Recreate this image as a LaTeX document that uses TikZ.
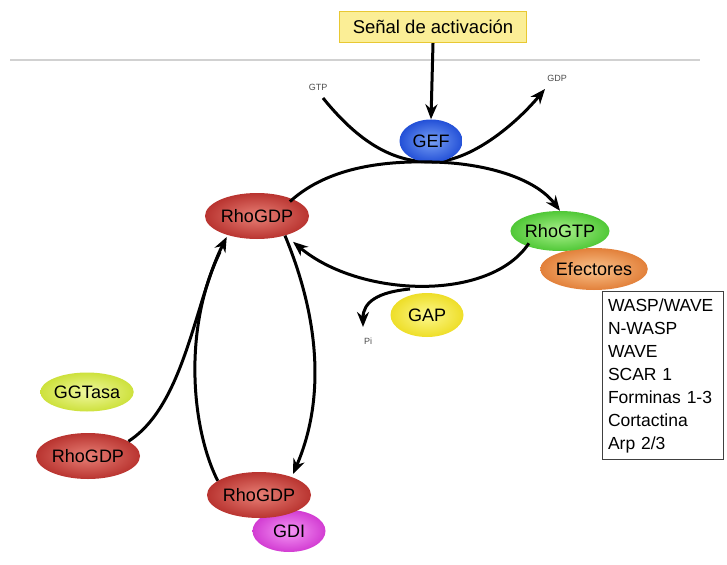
\documentclass[tikz,border=0pt]{standalone}
\usepackage{fontspec}
\setmainfont{Liberation Sans}
\usetikzlibrary{shapes.geometric,arrows.meta}
\definecolor{rdin}{RGB}{232,128,118}\definecolor{rdout}{RGB}{185,52,48}
\definecolor{blin}{RGB}{120,160,245}\definecolor{blout}{RGB}{35,80,215}
\definecolor{grin}{RGB}{170,240,140}\definecolor{grout}{RGB}{80,200,55}
\definecolor{orin}{RGB}{250,195,140}\definecolor{orout}{RGB}{226,128,58}
\definecolor{yein}{RGB}{252,248,140}\definecolor{yeout}{RGB}{238,222,40}
\definecolor{ygin}{RGB}{240,248,160}\definecolor{ygout}{RGB}{205,225,60}
\definecolor{mgin}{RGB}{245,150,245}\definecolor{mgout}{RGB}{210,60,210}
\definecolor{boxfill}{RGB}{251,238,150}\definecolor{boxedge}{RGB}{232,200,50}
\tikzset{
  bub/.style={ellipse, inner sep=0pt, font=\fontsize{18}{20}\selectfont},
  rdb/.style={bub, inner color=rdin, outer color=rdout, minimum width=104pt, minimum height=46pt},
  arr/.style={-{Stealth[length=15pt,width=12pt]}, line width=3pt},
  ln/.style={line width=3pt},
  small/.style={font=\fontsize{9}{10}\selectfont, text=black!70, inner sep=1pt}
}
\begin{document}
\begin{tikzpicture}[x=1pt,y=-1pt]
\useasboundingbox (0,0) rectangle (727,564);
\draw[black!18, line width=1.2pt] (10,60) -- (700,60);
% labels
\node[small] (gtp) at (318,87) {GTP};
\node[small] (gdp) at (557,78) {GDP};
\node[small] (pi) at (368,341) {Pi};
% signal box
\node[draw=boxedge, fill=boxfill, line width=1.2pt, minimum width=187pt, minimum height=31pt, inner sep=0pt, font=\fontsize{18.5}{20}\selectfont] (sig) at (433,27) {Señal de activación};
% curve behind GEF
\coordinate (gtpS) at (323,98);
\coordinate (gdpS) at (545,89);
\draw[arr] (gtpS) .. controls (365,150) and (400,162) .. (432,162) .. controls (470,162) and (515,125) .. (gdpS);
% nodes
\node[bub, inner color=blin, outer color=blout, minimum width=63pt, minimum height=43pt] (gef) at (431,141) {GEF};
\node[rdb] (rA) at (257,216) {RhoGDP};
\node[bub, inner color=orin, outer color=orout, minimum width=90pt, minimum height=42pt] (efe) at (594,269) {Efectores};
\node[bub, inner color=grin, outer color=grout, minimum width=93pt, minimum height=40pt] (gtpn) at (560,231) {RhoGTP};
\node[bub, inner color=yein, outer color=yeout, minimum width=73pt, minimum height=44pt] (gap) at (427,315) {GAP};
\node[bub, inner color=ygin, outer color=ygout, minimum width=85pt, minimum height=39pt] (ggt) at (87,392) {GGTasa};
\node[rdb] (rL) at (88,456) {RhoGDP};
\node[bub, inner color=mgin, outer color=mgout, minimum width=73pt, minimum height=42pt] (gdi) at (289,531) {GDI};
\node[rdb] (rB) at (259,495) {RhoGDP};
% list box
\node[draw=black!75, line width=1pt, anchor=north west, align=left, minimum width=121pt, minimum height=168pt, text width=110pt, inner xsep=5pt, font=\fontsize{17.5}{23}\selectfont] (lst) at (602,291) {WASP/WAVE\\N-WASP\\WAVE\\SCAR 1\\Forminas 1-3\\Cortactina\\Arp 2/3};
% connectors
\draw[arr] (sig.south) -- (gef.north);
\draw[arr] (rA.north east) ++(-4,2) .. controls (330,165) and (390,161) .. (432,162) .. controls (485,163) and (535,178) .. (gtpn.north);
\coordinate (br) at (410,289);
\draw[arr] (gtpn.south west) ++(4,-2) .. controls (490,302) and (360,298) .. ([yshift=-9pt]rA.-25);
\draw[arr] (br) .. controls (378,292) and (363,302) .. (363,327);
\draw[arr] (rL.20) .. controls (185,405) and (195,300) .. ([yshift=-2pt]rA.-148);
\draw[ln] (rB.161) .. controls (192,430) and (182,330) .. (220,252);
\draw[arr] (rA.-35) .. controls (320,320) and (325,400) .. (293,474);
\end{tikzpicture}
\end{document}
